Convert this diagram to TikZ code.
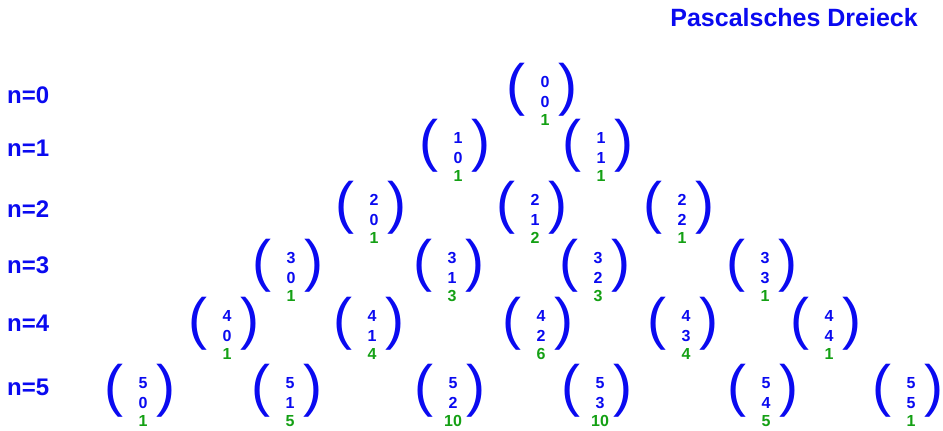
\documentclass[tikz,border=0pt]{standalone}
\usepackage{fontspec}
\setmainfont{Liberation Sans}
\usepackage{tikz}
\usetikzlibrary{positioning}
\definecolor{pblue}{RGB}{10,10,240}
\definecolor{pgreen}{RGB}{20,160,20}
\tikzset{
  titel/.style={
    font=\bfseries\fontsize{25}{25}\selectfont, text=pblue,
    inner sep=0pt, anchor=base east
  },
  zeile/.style={
    font=\bfseries\fontsize{24}{24}\selectfont, text=pblue,
    inner sep=0pt, anchor=west
  },
  ziffer/.style={
    font=\bfseries\fontsize{16}{16}\selectfont, text=pblue,
    inner sep=0pt
  },
  wert/.style={ziffer, text=pgreen},
  klammer/.style={
    font=\fontsize{57}{57}\selectfont, text=pblue,
    inner sep=0pt
  },
}

\begin{document}
\begin{tikzpicture}[x=1pt, y=-1pt]
  \useasboundingbox (0,0) rectangle (943,431);

  \node (titel) [titel] at (918,27) {Pascalsches Dreieck};

  % Zeile n, y oben, y Label, Liste x/Wert
  \foreach \nn/\yt/\yl/\liste in {
      0/82/95/{545/1},
      1/138/148/{458/1,601/1},
      2/200/209/{374/1,535/2,682/1},
      3/258/265/{291/1,452/3,598/3,765/1},
      4/316/323/{227/1,372/4,541/6,686/4,829/1},
      5/383/387/{143/1,290/5,453/10,600/10,766/5,911/1}} {
    \node (lab\nn) [zeile] at (7,\yl) {n=\nn};
    \foreach[count=\kk from 0] \x/\w in \liste {
      \node (o-\nn-\kk)  [ziffer]  at (\x,\yt)         {\nn};
      \node (u-\nn-\kk)  [ziffer]  at (\x,\yt+20)      {\kk};
      \node (w-\nn-\kk)  [wert]    at (\x,\yt+38)      {\w};
      \node (kl-\nn-\kk) [klammer] at (\x-29,\yt+8)    {(};
      \node (kr-\nn-\kk) [klammer] at (\x+23,\yt+8)    {)};
    }
  }
\end{tikzpicture}
\end{document}
